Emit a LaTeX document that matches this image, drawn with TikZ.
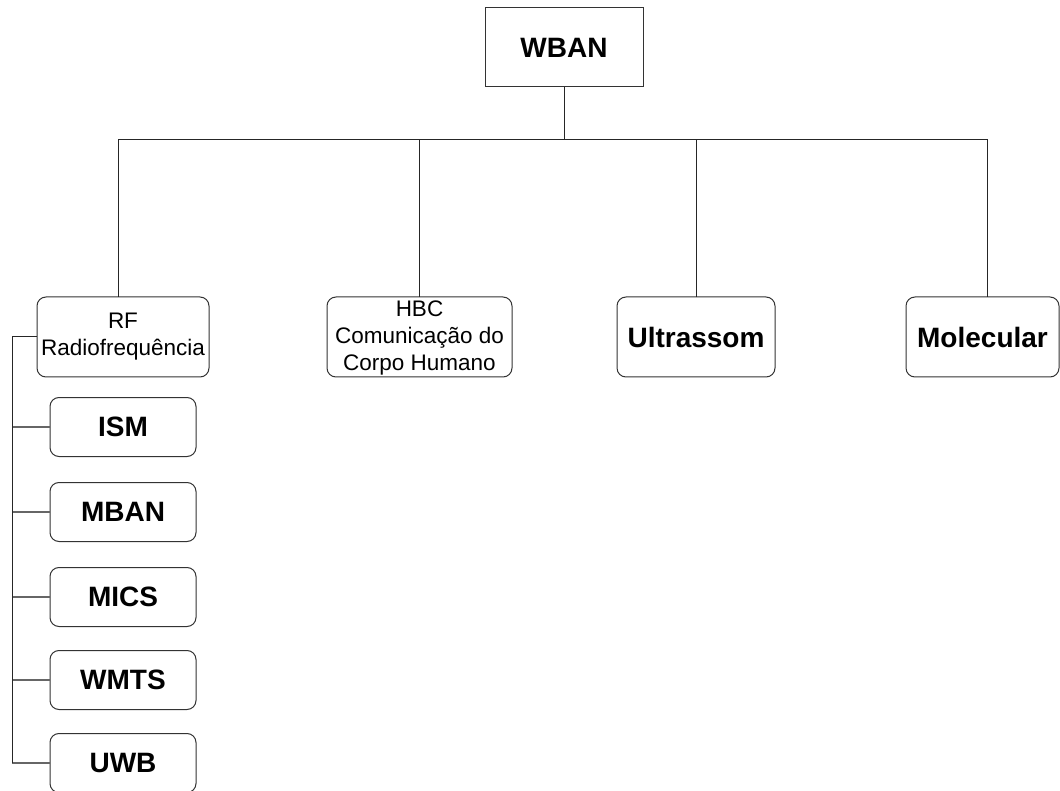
\documentclass[tikz,border=0pt]{standalone}
\usepackage{fontspec}
\setmainfont{Liberation Sans}
\begin{document}
\begin{tikzpicture}[x=1pt,y=-1pt,
  every node/.style={inner sep=0pt, outer sep=0pt},
  rootbox/.style={draw=black!80, line width=1pt, fill=white},
  catbox/.style={draw=black!80, line width=1pt, rounded corners=9pt, fill=white},
  boldlbl/.style={font=\fontsize{28}{32}\selectfont\bfseries},
  plainlbl/.style={font=\fontsize{22.5}{27}\selectfont, align=center},
  link/.style={draw=black!85, line width=1pt},
  sublink/.style={draw=black!60, line width=1.2pt}]
\useasboundingbox (0,0) rectangle (1060,791);

% root
\node[rootbox, boldlbl, minimum width=158pt, minimum height=79pt] (wban) at (564,47.5) {WBAN};

% first level
\node[catbox, minimum width=172pt, minimum height=80pt] (rf) at (123,337) {};
\node[plainlbl] at (123,337) {RF\\Radiofrequência};
\node[catbox, minimum width=185pt, minimum height=80pt] (hbc) at (419.5,337) {};
\node[plainlbl] at (419.5,338) {HBC\\Comunicação do\\Corpo Humano};
\node[catbox, boldlbl, minimum width=158pt, minimum height=80pt] (ultra) at (696,337) {Ultrassom};
\node[catbox, boldlbl, minimum width=153pt, minimum height=80pt] (mol) at (982.5,337) {Molecular};

% bus
\coordinate (bus) at (564,140);
\draw[link] (wban.south) -- (bus);
\draw[link] (118,297) |- (bus);
\draw[link] (bus) -| (987,297);
\draw[link] (hbc.north) -- (419.5,140);
\draw[link] (ultra.north) -- (696,140);

% RF bands
\foreach \name/\lbl/\y in {ism/ISM/427, mban/MBAN/512, mics/MICS/597, wmts/WMTS/680, uwb/UWB/763}{
  \node[catbox, boldlbl, minimum width=146pt, minimum height=59pt] (\name) at (123,\y) {\lbl};
  \draw[sublink] (\name.west) -- (12,\y);
}
\coordinate (rail) at (12,337);
\draw[link] (rf.west) -- (rail) -- (12,763);
\end{tikzpicture}
\end{document}
